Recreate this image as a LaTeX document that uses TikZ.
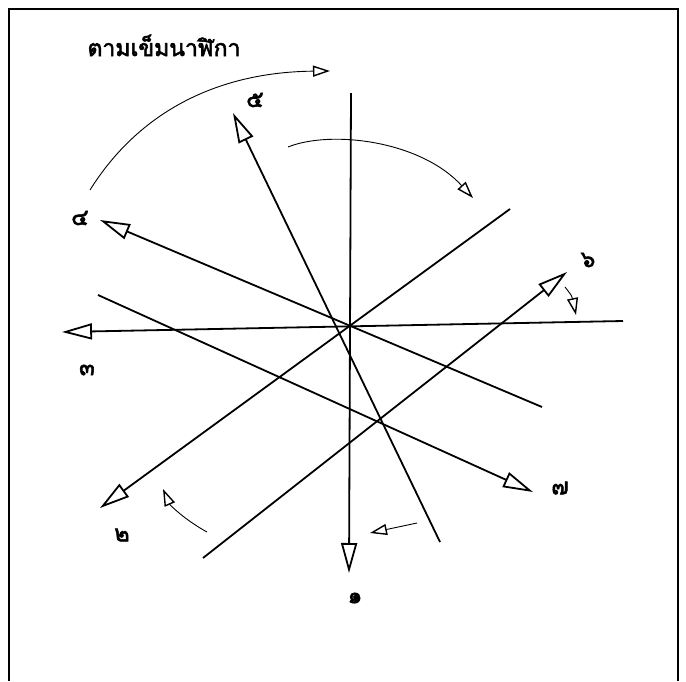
\documentclass[tikz,border=0pt]{standalone}
\usepackage{fontspec}
\newfontfamily\thaifont[Script=Thai]{Loma}
\newfontfamily\thaibold[Script=Thai,FakeBold=2.5]{Loma}
\usetikzlibrary{arrows.meta}

\begin{document}
\begin{tikzpicture}[x=1pt,y=-1pt,
   ray/.style={line width=1.8pt,-{Triangle[open,length=30pt,width=16pt,line width=1.8pt]}},
   turn/.style={line width=0.9pt,-{Triangle[open,length=17pt,width=11pt,line width=1.4pt]}},
   num/.style={font=\thaibold\fontsize{23}{23}\selectfont}]
  \useasboundingbox (0,0) rectangle (686,681);
  \draw[line width=1.2pt] (9,681) -- (9,9) -- (678,9) -- (678,681);
  \node[anchor=base west,font=\thaibold\fontsize{23}{23}\selectfont] (title) at (84,56) {ตามเข็มนาฬิกา};

  % ends of the rays
  \coordinate (t1) at (349,573); \coordinate (e1) at (351,93);
  \coordinate (t2) at (100,508); \coordinate (e2) at (510,209);
  \coordinate (t3) at (62,332);  \coordinate (e3) at (623,321);
  \coordinate (t4) at (100,220); \coordinate (e4) at (542,407);
  \coordinate (t5) at (233,113); \coordinate (e5) at (440,542);
  \coordinate (t6) at (567,272); \coordinate (e6) at (203,558);
  \coordinate (t7) at (533,492); \coordinate (e7) at (98,295);

  \draw[ray] (e1) -- (t1);
  \draw[ray] (e2) -- (t2);
  \draw[ray] (e3) -- (t3);
  \draw[ray] (e4) -- (t4);
  \draw[ray] (e5) -- (t5);
  \draw[ray] (e6) -- (t6);
  \draw[ray] (e7) -- (t7);

  \node[num] (n1) at (355,598) {๑};
  \node[num] (n2) at (122,535) {๒};
  \node[num] (n3) at (87,370)  {๓};
  \node[num] (n4) at (80,218)  {๔};
  \node[num] (n5) at (255,100) {๕};
  \node[num] (n6) at (588,260) {๖};
  \node[num] (n7) at (560,488) {๗};

  % turning arrows
  \draw[turn] (90,190) .. controls (140,110) and (220,72) .. (330,71);
  \draw[turn] (288,147) .. controls (330,130) and (420,140) .. (473,198);
  \draw[turn] (565,287) .. controls (572,296) .. (576,315);
  \draw[turn] (417,523) -- (370,533);
  \draw[turn] (207,532) .. controls (185,520) and (170,505) .. (163,489);
\end{tikzpicture}
\end{document}
